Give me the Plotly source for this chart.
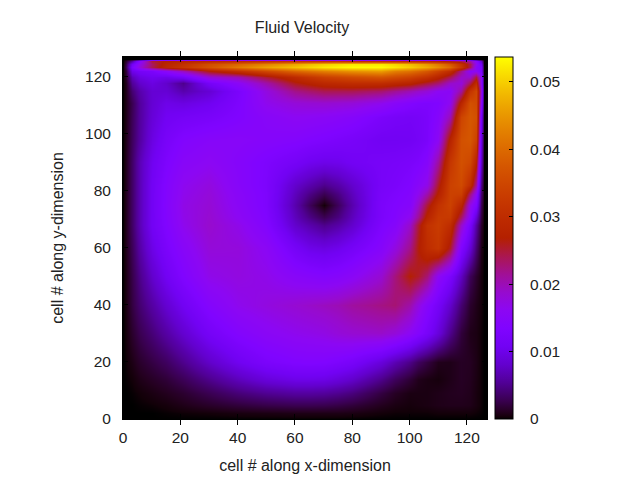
import plotly.graph_objects as go

title_text = "Fluid Velocity"
x_title = "cell # along x-dimension"
y_title = "cell # along y-dimension"
cell_x = [0, 1, 3, 6, 10, 15, 21, 30, 40, 50, 60, 65, 70, 75, 80, 90, 95, 100, 103, 106, 110, 114, 118, 121, 123, 125, 126, 127]
cell_y = [0, 2, 5, 9, 14, 20, 30, 40, 50, 60, 68, 71, 75, 79, 82, 90, 98, 106, 111, 115, 118, 120, 122, 123.5, 124.5, 125.5, 126.2, 127]
# velocity, in units of 1e-4
row_y0 = [0]*28
row_y2 = [0,0,0,0,0,1,2,3,5,6,7,7,7,7,6,3,2,2,2,2,3,3,3,3,2,1,0,0]
row_y5 = [0,0,0,1,2,4,8,14,20,25,28,28,27,24,20,10,6,4,5,6,8,9,9,8,5,2,0,0]
row_y9 = [0,0,1,3,6,10,16,28,42,52,58,58,56,51,44,22,12,6,6,6,8,10,11,9,5,2,0,0]
row_y14 = [0,1,3,8,13,19,30,50,72,90,100,100,98,90,80,50,32,18,9,6,4,8,12,10,6,2,0,0]
row_y20 = [0,2,7,15,23,33,50,78,105,125,135,136,135,128,120,90,68,48,33,22,9,8,12,11,7,2,0,0]
row_y30 = [0,4,15,28,42,60,82,115,140,155,165,168,172,180,185,190,180,158,140,120,90,50,20,8,6,2,0,0]
row_y40 = [0,6,22,40,60,83,108,142,165,175,185,190,195,200,210,222,228,205,175,145,115,80,40,15,8,3,0,0]
row_y50 = [0,7,25,50,80,108,135,168,175,168,150,145,140,145,155,185,225,268,255,228,160,125,75,30,15,4,0,0]
row_y60 = [0,9,30,62,98,125,150,180,178,158,115,100,95,102,115,145,175,220,265,300,320,255,135,85,40,8,0,0]
row_y68 = [0,10,35,70,110,135,165,188,168,138,80,65,50,62,80,130,145,190,250,310,330,300,190,120,60,15,0,0]
row_y71 = [0,10,35,70,110,138,168,186,160,134,72,48,28,45,72,125,138,165,215,280,325,325,235,150,85,22,0,0]
row_y75 = [0,10,35,70,110,140,170,183,155,130,65,32,3,32,65,125,135,145,190,250,310,340,285,170,130,30,0,0]
row_y79 = [0,10,35,70,110,139,166,180,152,130,72,48,28,46,72,122,130,140,165,205,275,340,335,225,160,40,0,0]
row_y82 = [0,10,35,70,110,138,163,176,148,128,80,65,50,62,80,118,125,135,150,170,255,340,355,300,210,50,0,0]
row_y90 = [0,10,35,70,105,130,150,160,145,130,115,105,100,102,110,118,120,125,130,145,210,320,365,350,280,80,0,0]
row_y98 = [0,9,32,60,95,120,138,148,150,145,140,135,130,125,120,108,108,110,115,125,160,280,365,375,340,100,0,0]
row_y106 = [0,8,30,58,88,108,115,122,135,150,160,158,155,150,145,125,118,115,118,125,145,200,345,375,365,120,0,0]
row_y111 = [0,8,28,58,85,100,95,105,130,165,180,183,185,183,180,165,150,138,132,130,135,165,285,365,355,160,0,0]
row_y115 = [0,9,40,65,85,85,65,85,125,175,220,230,240,240,240,230,215,200,190,180,160,155,210,315,350,180,0,0]
row_y118 = [0,10,55,80,95,80,50,115,155,205,260,275,290,295,300,300,290,280,265,250,230,190,180,240,300,160,0,0]
row_y120 = [0,15,70,95,105,100,115,180,200,250,295,315,335,345,355,370,355,340,325,310,280,240,190,190,250,160,0,0]
row_y122 = [0,20,100,115,125,155,195,265,305,350,395,410,425,435,445,455,425,410,395,375,340,300,220,155,160,125,0,0]
row_y123 = [0,30,125,180,240,290,320,370,420,460,490,505,520,528,535,535,520,500,485,470,440,400,320,240,150,125,0,0]
row_y124 = [0,25,110,170,235,285,310,360,395,430,465,485,500,510,520,520,505,485,470,450,420,375,310,240,165,110,0,0]
row_y125 = [0,15,60,150,250,270,280,290,300,310,320,320,320,320,310,310,305,300,295,290,280,260,240,210,150,80,0,0]
row_y126 = [0]*28
row_y127 = [0]*28
rows = [row_y0, row_y2, row_y5, row_y9, row_y14, row_y20, row_y30, row_y40, row_y50, row_y60,
        row_y68, row_y71, row_y75, row_y79, row_y82, row_y90, row_y98, row_y106, row_y111, row_y115, row_y118,
        row_y120, row_y122, row_y123, row_y124, row_y125, row_y126, row_y127]
assert len(rows) == len(cell_y) and all(len(r) == len(cell_x) for r in rows)
x_ticks = [0, 20, 40, 60, 80, 100, 120]
y_ticks = [0, 20, 40, 60, 80, 100, 120]
bar_ticks = [0, 0.01, 0.02, 0.03, 0.04, 0.05]
bar_labels = ["0", "0.01", "0.02", "0.03", "0.04", "0.05"]
z_max = 0.0537
palette = [[0, "rgb(0,0,0)"], [.005, "rgb(18,0,8)"], [.01, "rgb(25,0,16)"], [.02, "rgb(36,0,32)"],
           [.05, "rgb(57,0,79)"], [.1, "rgb(81,0,150)"], [.15, "rgb(99,1,206)"], [.2, "rgb(114,2,243)"],
           [.25, "rgb(128,4,255)"], [.3, "rgb(140,7,243)"], [.35, "rgb(151,11,206)"], [.4, "rgb(161,16,150)"],
           [.45, "rgb(171,23,79)"], [.5, "rgb(180,32,0)"], [.55, "rgb(189,42,0)"], [.6, "rgb(198,55,0)"],
           [.65, "rgb(206,70,0)"], [.7, "rgb(213,87,0)"], [.75, "rgb(221,108,0)"], [.8, "rgb(228,131,0)"],
           [.85, "rgb(235,157,0)"], [.9, "rgb(242,186,0)"], [.95, "rgb(249,219,0)"], [1, "rgb(255,255,0)"]]

FONT = "Liberation Sans"
TS = 15.5
z = [[v * 1e-4 for v in r] for r in rows]

fig = go.Figure(go.Heatmap(
    x=cell_x, y=cell_y, z=z, zmin=0, zmax=z_max, zsmooth="best", colorscale=palette,
    colorbar=dict(
        x=372 / 364, xanchor="left", xpad=0, y=0, yanchor="bottom", ypad=0, len=1, lenmode="fraction",
        thickness=18, thicknessmode="pixels", outlinecolor="black", outlinewidth=1,
        ticks="inside", ticklen=4, tickcolor="black", tickwidth=1,
        tickvals=bar_ticks, ticktext=["\u00a0\u00a0\u00a0" + s for s in bar_labels],
        tickfont=dict(family=FONT, size=TS, color="#222"))))

axis = dict(ticks="inside", ticklen=5, tickcolor="black", mirror="allticks", showline=True, linecolor="black",
            linewidth=1, showgrid=False, zeroline=False, tickfont=dict(family=FONT, size=TS, color="#222"),
            range=[0, 127])
fig.update_layout(
    width=632, height=472, autosize=False, paper_bgcolor="white", plot_bgcolor="black",
    margin=dict(l=115, r=153, t=49, b=61, pad=0, autoexpand=False),
    title=dict(text=title_text, x=294 / 632, xanchor="center", y=1 - 19 / 472, yanchor="middle",
               font=dict(family=FONT, size=16, color="#222")),
    xaxis=dict(axis, tickvals=x_ticks, ticklabelstandoff=4,
               title=dict(text=x_title, standoff=15, font=dict(family=FONT, size=16, color="#222"))),
    yaxis=dict(axis, tickvals=y_ticks, ticklabelstandoff=8,
               title=dict(text=y_title, standoff=17, font=dict(family=FONT, size=16, color="#222"))),
    yaxis2=dict(overlaying="y", range=[0, z_max], visible=False),
    shapes=[dict(type="line", xref="paper", yref="y2", x0=372 / 364, x1=376 / 364, y0=t, y1=t,
                 line=dict(color="black", width=1)) for t in bar_ticks])
fig.write_html("out.html")
